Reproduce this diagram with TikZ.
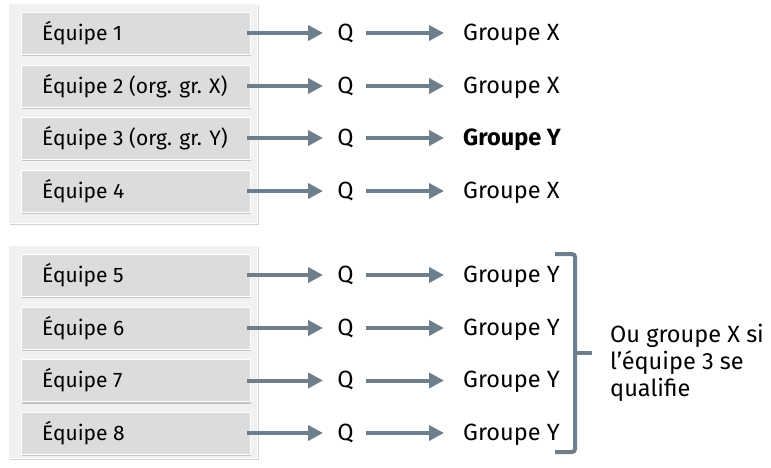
\documentclass[tikz,border=0pt]{standalone}
\usepackage{fontspec}
\setmainfont{Fira Sans}
\usetikzlibrary{shadows,arrows.meta}
\definecolor{arr}{HTML}{6E7E8B}
\definecolor{boxfill}{HTML}{DCDCDC}
\definecolor{panelfill}{HTML}{F1F1F1}
\tikzset{
  panel/.style={fill=panelfill, draw=white, line width=0.8pt, drop shadow={shadow xshift=1.5pt, shadow yshift=-2pt, opacity=0.35}},
  teambox/.style={fill=boxfill, draw=white, line width=1pt, minimum width=229pt, minimum height=42pt, inner sep=0pt, drop shadow={shadow xshift=1pt, shadow yshift=-2pt, opacity=0.4}},
  teamtext/.style={anchor=base west, inner sep=0pt, font=\fontsize{21}{24}\selectfont},
  qtext/.style={anchor=base, inner sep=0pt, font=\fontsize{23.5}{28}\selectfont},
  grptext/.style={anchor=base west, inner sep=0pt, font=\fontsize{23.5}{28}\selectfont},
  flow/.style={draw=arr, line width=4pt, -{Triangle[length=15pt,width=15pt]}},
  brace/.style={draw=arr, line width=4pt, rounded corners=3pt}
}
\begin{document}
\begin{tikzpicture}[x=1pt,y=-1pt]
\useasboundingbox (0,0) rectangle (771,467);
\fill[panelfill, panel] (8,3) rectangle (257,223);
\fill[panelfill, panel] (8,245) rectangle (257,458);
\foreach \i/\y/\t in {1/33/{Équipe 1},2/86/{Équipe 2 (org. gr. X)},3/138/{Équipe 3 (org. gr. Y)},4/191/{Équipe 4},5/275/{Équipe 5},6/328/{Équipe 6},7/380.5/{Équipe 7},8/433/{Équipe 8}}{
  \node[teambox] (b\i) at (135.5,\y) {};
  \node[teamtext] (t\i) at (42,\y+7) {\t};
  \coordinate (s\i) at (247,\y);
  \coordinate (e\i) at (323,\y);
  \node[qtext] (q\i) at (345.5,\y+7) {Q};
  \coordinate (m\i) at (366,\y);
  \coordinate (f\i) at (444,\y);
}
\node[grptext] (g1) at (463,40) {Groupe X};
\node[grptext] (g2) at (463,93) {Groupe X};
\node[grptext] (g3) at (463,145) {\textbf{Groupe Y}};
\node[grptext] (g4) at (463,198) {Groupe X};
\node[grptext] (g5) at (463,282) {Groupe Y};
\node[grptext] (g6) at (463,335) {Groupe Y};
\node[grptext] (g7) at (463,387.5) {Groupe Y};
\node[grptext] (g8) at (463,440) {Groupe Y};
\foreach \i in {1,...,8}{
  \draw[flow] (s\i) -- (e\i);
  \draw[flow] (m\i) -- (f\i);
}
\coordinate (bt) at (555,254);
\coordinate (bb) at (555,452);
\coordinate (bm) at (592,353);
\draw[brace] (bt) -- (575,254) -- (575,452) -- (bb);
\draw[brace,rounded corners=0pt] (575,353) -- (bm);
\node[anchor=base west, inner sep=0pt, align=left, font=\fontsize{23.5}{27}\selectfont] (note) at (610,396) {Ou groupe X si\\l’équipe 3 se\\qualifie};
\end{tikzpicture}
\end{document}
